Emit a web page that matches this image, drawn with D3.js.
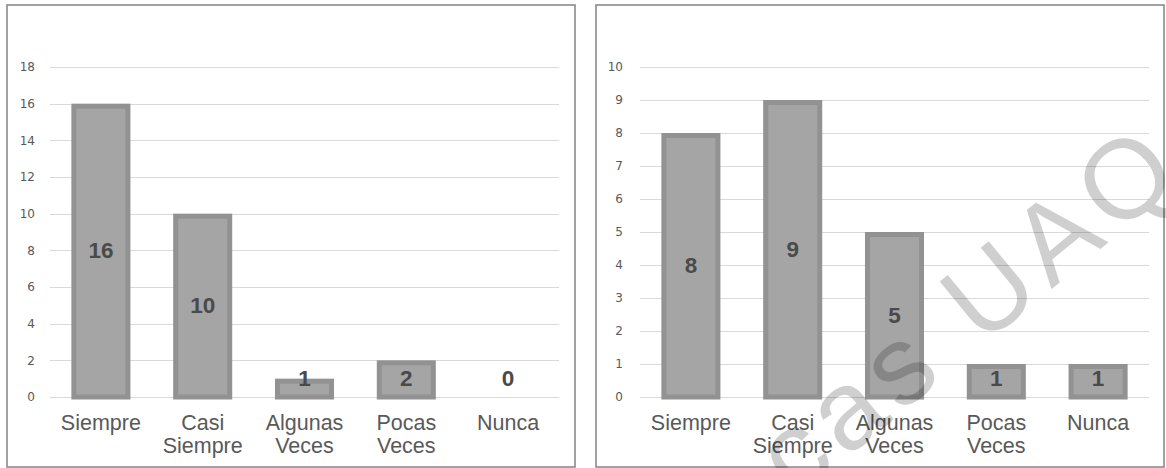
<!DOCTYPE html>
<html>
<head>
<meta charset="utf-8">
<script src="https://cdn.jsdelivr.net/npm/d3@7"></script>
<style>
  html, body { margin: 0; padding: 0; background: #fff; }
  svg { display: block; }
</style>
</head>
<body>
<svg id="chart" width="1166" height="468"></svg>
<script>
// Response categories (shared by both panels)
const categories = [["Siempre"], ["Casi", "Siempre"], ["Algunas", "Veces"], ["Pocas", "Veces"], ["Nunca"]];

// Left panel
const valuesLeft = [16, 10, 1, 2, 0];
const ticksLeft = [0, 2, 4, 6, 8, 10, 12, 14, 16, 18];

// Right panel
const valuesRight = [8, 9, 5, 1, 1];
const ticksRight = [0, 1, 2, 3, 4, 5, 6, 7, 8, 9, 10];

const watermark = "Bibliotecas UAQ";

const svg = d3.select("#chart");
svg.append("rect").attr("width", 1166).attr("height", 468).attr("fill", "#fff");

function panel(opts) {
  const { frame, x0, x1, yTop, yBottom, values, ticks, tickX } = opts;
  const g = svg.append("g");

  // outer chart frame
  g.append("rect")
    .attr("x", frame[0]).attr("y", frame[1])
    .attr("width", frame[2] - frame[0]).attr("height", frame[3] - frame[1])
    .attr("fill", "#fff").attr("stroke", "#8a8a8a").attr("stroke-width", 1.6);

  const x = d3.scaleBand()
    .domain(d3.range(values.length))
    .range([x0, x1])
    .paddingInner(0.42)
    .paddingOuter(0.21);

  const y = d3.scaleLinear()
    .domain([0, d3.max(ticks)])
    .range([yBottom, yTop]);

  // gridlines
  g.append("g").selectAll("line").data(ticks).join("line")
    .attr("x1", x0).attr("x2", x1)
    .attr("y1", d => Math.round(y(d)) + 0.5).attr("y2", d => Math.round(y(d)) + 0.5)
    .attr("stroke", "#d9d9d9").attr("stroke-width", 1);

  // y tick labels
  const axis = d3.axisLeft(y).tickValues(ticks).tickSize(0).tickPadding(0);
  const ag = g.append("g").attr("transform", `translate(${tickX},0)`).call(axis);
  ag.select(".domain").remove();
  ag.selectAll("text")
    .attr("fill", "#595959")
    .style("font-family", "'DejaVu Sans', sans-serif")
    .style("font-size", "12px");

  // bars with a darker inset border
  const bw = 5;
  g.append("g").selectAll("rect").data(values).join("rect")
    .filter(d => d > 0)
    .attr("x", (d, i) => x(i) + bw / 2)
    .attr("y", d => y(d) + bw / 2)
    .attr("width", x.bandwidth() - bw)
    .attr("height", d => y(0) - y(d) - bw / 2)
    .attr("fill", "#a5a5a5")
    .attr("stroke", "#929292")
    .attr("stroke-width", bw);

  // value labels, centred in the bar and kept clear of the baseline
  g.append("g").selectAll("text").data(values).join("text")
    .attr("x", (d, i) => x(i) + x.bandwidth() / 2)
    .attr("y", d => Math.min((y(d) + y(0)) / 2, y(0) - 19))
    .attr("dy", "0.36em")
    .attr("text-anchor", "middle")
    .attr("fill", "#4a4a4a")
    .style("font-family", "'Liberation Sans', Arial, sans-serif")
    .style("font-weight", "bold")
    .style("font-size", "22.5px")
    .text(d => d);

  // category labels
  const cg = g.append("g").selectAll("text").data(categories).join("text")
    .attr("x", (d, i) => x(i) + x.bandwidth() / 2)
    .attr("y", 430)
    .attr("text-anchor", "middle")
    .attr("fill", "#595959")
    .style("font-family", "'Liberation Sans', Arial, sans-serif")
    .style("font-size", "21.5px");
  cg.selectAll("tspan").data(d => d).join("tspan")
    .attr("x", function () { return d3.select(this.parentNode).attr("x"); })
    .attr("dy", (d, i) => i === 0 ? 0 : 23)
    .text(d => d);
}

panel({
  frame: [7, 5, 575, 467],
  x0: 50, x1: 559, yTop: 67, yBottom: 397,
  values: valuesLeft, ticks: ticksLeft, tickX: 35
});

panel({
  frame: [596, 5, 1164, 467],
  x0: 640, x1: 1149, yTop: 67, yBottom: 397,
  values: valuesRight, ticks: ticksRight, tickX: 623
});

// diagonal watermark across the right panel
svg.append("text")
  .attr("transform", "translate(1190,175) rotate(-39.5)")
  .attr("text-anchor", "end")
  .attr("fill", "#000")
  .attr("fill-opacity", 0.19)
  .style("font-family", "'Liberation Sans', Arial, sans-serif")
  .style("font-size", "112px")
  .style("letter-spacing", "9px")
  .text(watermark);
</script>
</body>
</html>
